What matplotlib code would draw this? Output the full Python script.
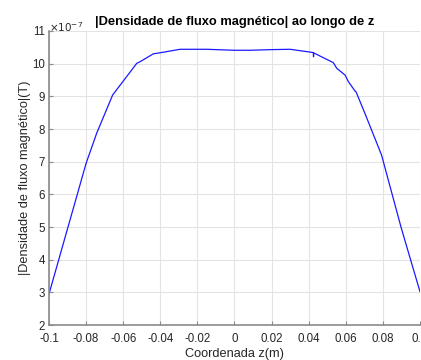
import matplotlib
matplotlib.use("Agg")
import matplotlib.pyplot as plt

plt.rcParams['font.family'] = ['Liberation Sans', 'DejaVu Sans']

z = [-0.1, -0.09, -0.08, -0.0743, -0.0657, -0.0527, -0.0509, -0.0438, -0.0384,
     -0.0294, -0.015, 0.0, 0.0084, 0.02, 0.030, 0.0425, 0.0426, 0.0427, 0.0533,
     0.0551, 0.0596, 0.0614, 0.065, 0.0655, 0.0703, 0.0793, 0.0829, 0.09, 0.1]
B = [2.95, 4.95, 6.95, 7.87, 9.04, 10.01, 10.06, 10.30, 10.35,
     10.44, 10.44, 10.41, 10.41, 10.43, 10.44, 10.34, 10.21, 10.33, 10.03,
     9.86, 9.65, 9.45, 9.16, 9.14, 8.48, 7.2, 6.44, 4.95, 3.02]

xticks = [-0.1, -0.08, -0.06, -0.04, -0.02, 0, 0.02, 0.04, 0.06, 0.08, 0.1]
xticklabels = ['-0.1', '-0.08', '-0.06', '-0.04', '-0.02', '0', '0.02', '0.04', '0.06', '0.08', '0.1']
yticks = [2, 3, 4, 5, 6, 7, 8, 9, 10, 11]

fig = plt.figure(figsize=(4.21, 3.6), dpi=100)
ax = fig.add_axes([0.1164, 0.0972, 0.8812, 0.8167])
ax.plot(z, B, color='#1a1aff', lw=0.9)
ax.set_xlim(-0.1, 0.1)
ax.set_ylim(2, 11)
ax.set_xticks(xticks)
ax.set_xticklabels(xticklabels)
ax.set_yticks(yticks)
ax.grid(True, color='#e3e3e3', lw=0.8)
ax.set_axisbelow(True)
for s in ['top', 'right']:
    ax.spines[s].set_visible(False)
for s in ['bottom', 'left']:
    ax.spines[s].set_color('#8a8a8a')
    ax.spines[s].set_linewidth(1.2)
ax.tick_params(direction='in', length=3, width=0.8, color='#8a8a8a',
               labelsize=8.3, labelcolor='#262626')
ax.tick_params(axis='x', pad=6)
ax.tick_params(axis='y', pad=3)
ax.set_title('|Densidade de fluxo magnético| ao longo de z', fontsize=9.3,
             fontweight='bold', color='black', pad=4)
ax.set_xlabel('Coordenada z(m)', fontsize=9.2, color='#262626', labelpad=2)
ax.set_ylabel('|Densidade de fluxo magnético|(T)', fontsize=9.2, color='#262626', labelpad=1)
fig.text(0.117, 0.905, r'$\times10^{-7}$', fontsize=7.5, color='#262626', ha='left', va='bottom')
fig.savefig('out.png', dpi=100)
